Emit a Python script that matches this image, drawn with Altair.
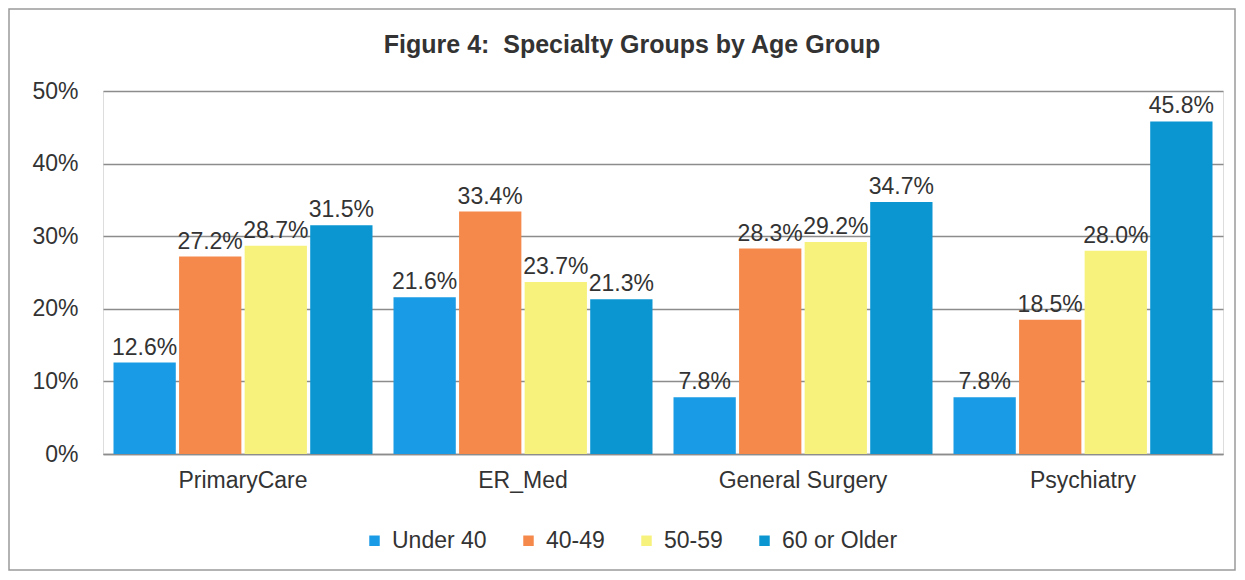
import altair as alt
import pandas as pd

specialties = ["PrimaryCare", "ER_Med", "General Surgery", "Psychiatry"]
age_groups = ["Under 40", "40-49", "50-59", "60 or Older"]
under40 = [12.6, 21.6, 7.8, 7.8]
age4049 = [27.2, 33.4, 28.3, 18.5]
age5059 = [28.7, 23.7, 29.2, 28.0]
older60 = [31.5, 21.3, 34.7, 45.8]
colors = ["#1a9be6", "#f5894b", "#f6f27c", "#0b96d2"]
title_text = "Figure 4: \u00a0Specialty Groups by Age Group"

rows = []
for i, s in enumerate(specialties):
    for g, vals in zip(age_groups, [under40, age4049, age5059, older60]):
        rows.append({"Specialty": s, "Age": g, "Value": vals[i] / 100.0,
                     "Label": f"{vals[i]:.1f}%"})
df = pd.DataFrame(rows)

FONT = "Liberation Sans"
TXT = "#333333"
FS = 23

base = alt.Chart(df).encode(
    x=alt.X("Specialty:N", sort=specialties, title=None,
            scale=alt.Scale(paddingInner=0.075, paddingOuter=0.0375),
            axis=alt.Axis(labelAngle=0, labelFontSize=FS, labelFont=FONT,
                          labelColor=TXT, labelPadding=15, ticks=False,
                          domain=True, domainColor="#8c8c8c", domainWidth=1.5,
                          grid=False)),
    xOffset=alt.XOffset("Age:N", sort=age_groups,
                        scale=alt.Scale(paddingInner=0.05)),
    y=alt.Y("Value:Q", title=None,
            scale=alt.Scale(domain=[0, 0.5], nice=False),
            axis=alt.Axis(format=".0%", values=[0, 0.1, 0.2, 0.3, 0.4, 0.5],
                          labelFontSize=FS, labelFont=FONT, labelColor=TXT,
                          labelPadding=25, ticks=False, domain=False,
                          grid=True, gridColor="#8c8c8c", gridWidth=1.3)),
)

bars = base.mark_bar().encode(
    color=alt.Color("Age:N", sort=age_groups,
                    scale=alt.Scale(domain=age_groups, range=colors),
                    legend=alt.Legend(title=None, orient="none", direction="horizontal",
                                      columns=4, legendX=260, legendY=438,
                                      labelFontSize=FS, labelFont=FONT, labelColor=TXT,
                                      symbolType="square", symbolSize=110,
                                      symbolStrokeWidth=0, columnPadding=30,
                                      labelOffset=6))
)

labels = base.mark_text(baseline="alphabetic", dy=-8, fontSize=FS, font=FONT,
                        color=TXT).encode(text="Label:N")

one = pd.DataFrame({"t": [title_text]})

border = alt.Chart(one).mark_rect(
    filled=False, stroke="#9a9a9a", strokeWidth=1.5
).encode(x=alt.value(-94), x2=alt.value(1132), y=alt.value(-82), y2=alt.value(479))

title = alt.Chart(one).mark_text(
    font=FONT, fontSize=25, fontWeight="bold", color=TXT,
    align="center", baseline="middle"
).encode(x=alt.value(529), y=alt.value(-46), text="t:N")

chart = alt.layer(border, title, bars, labels).properties(
    width=1120, height=363,
    autosize="none",
    padding={"left": 95, "top": 83, "right": 14, "bottom": 118},
).configure_view(stroke=None).configure(background="white")

chart.save("out.html", embed_options={"renderer": "svg", "actions": False})
